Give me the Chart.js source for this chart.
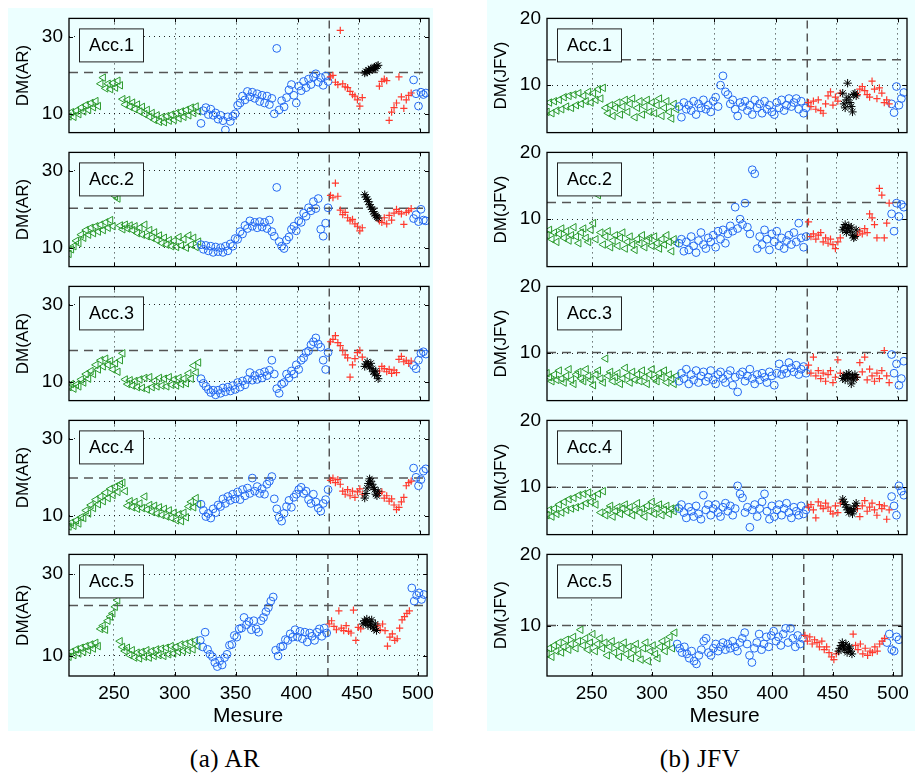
<!DOCTYPE html>
<html>
<head>
<meta charset="utf-8">
<script src="https://cdn.jsdelivr.net/npm/chart.js@4.4.0/dist/chart.umd.min.js"></script>
<style>
  body { margin: 0; width: 915px; height: 774px; overflow: hidden; position: relative; background: #fff; }
  .bg { position: absolute; background: #ecffff; }
  .panel { position: absolute; }
  .caption { position: absolute; width: 200px; text-align: center; font-family: "Liberation Serif", serif; font-size: 25px; line-height: 30px; letter-spacing: 0.5px; }
</style>
</head>
<body>
<div class="bg" style="left:8px;top:8px;width:425px;height:723px"></div>
<div class="bg" style="left:487px;top:0;width:428px;height:731px"></div>
<div class="caption" style="left:125px;top:744px">(a) AR</div>
<div class="caption" style="left:600px;top:744px">(b) JFV</div>

<script>
// x positions (Mesure) where each series starts, and sampling step
const greenStart = 213, blueStart = 321, redStart = 427, blackStart = 455, blueEndStart = 495;
const step = 2, blackStep = 1;
const splitMesure = 426;

const xTicks = [250, 300, 350, 400, 450, 500];
const yTicksAR = [10, 30];
const yTicksJFV = [10, 20];
const accLabels = ["Acc.1", "Acc.2", "Acc.3", "Acc.4", "Acc.5"];

// dashed threshold per accelerometer
const thrAR = [20.7, 20.3, 18.1, 19.8, 22.3];
const thrJFV = [13.8, 12.5, 10.1, 10.0, 10.0];

// ---- DM(AR) ----
const greenAR = [
  [9.3,10.4,9.2,10.8,9.9,11.6,10.6,12.3,11.0,12.8,11.7,13.3,12.0,17.8,19.4,16.6,17.8,16.4,18.0,16.8,18.6,17.4,13.8,12.4,13.6,11.8,12.9,11.2,12.4,10.6,11.8,9.9,11.0,9.2,10.2,8.4,9.6,7.9,9.1,7.8,9.4,8.2,9.8,8.4,10.2,8.8,10.6,9.2,11.0,9.6,11.6,10.2,11.9,10.6],
  [8.4,9.6,10.4,11.8,11.2,13.4,12.6,14.6,13.4,15.2,13.8,15.6,14.2,16.0,14.6,16.6,15.2,17.2,15.6,23.4,22.8,15.8,14.8,16.0,15.0,15.8,14.6,15.6,13.8,15.2,13.4,16.0,13.0,14.6,12.6,14.0,12.0,13.2,11.2,12.6,10.8,12.0,10.4,11.8,10.2,12.8,10.6,12.2,10.0,13.2,10.8,12.6,10.2,11.6],
  [8.6,9.4,8.2,9.2,8.8,10.6,9.8,12.0,10.8,12.8,12.0,14.4,13.2,15.6,14.0,16.0,14.4,15.4,13.2,14.8,12.6,15.6,17.4,10.6,9.4,10.4,9.0,10.2,8.6,10.6,8.4,11.0,8.0,11.2,8.6,10.2,8.8,11.0,9.0,10.8,8.8,11.2,9.2,10.6,9.0,11.0,9.4,10.8,9.6,12.2,10.8,14.2,12.4,15.0],
  [7.2,8.2,7.4,8.8,8.0,9.6,9.4,11.4,10.6,12.8,12.0,14.2,13.0,15.0,13.8,16.0,14.6,17.0,15.4,17.6,16.2,18.2,18.6,16.4,12.6,13.8,12.2,13.6,11.8,13.2,12.0,15.0,11.6,12.8,11.0,12.6,10.6,12.2,10.2,11.8,9.8,11.4,9.4,10.8,8.8,10.4,8.6,10.8,9.6,12.4,13.6,12.2,14.6,13.0],
  [9.8,11.0,10.2,11.6,10.6,12.0,11.0,12.4,11.4,12.8,11.8,13.2,12.4,16.6,17.4,16.4,18.6,19.6,20.4,22.0,23.6,13.6,12.2,11.2,12.0,10.2,11.4,9.6,10.8,9.4,11.0,9.8,11.4,9.6,11.2,10.0,11.6,10.2,11.8,10.0,12.0,10.4,12.4,10.6,12.2,11.0,12.8,11.2,13.0,11.4,13.4,11.6,13.8,12.4]
];
const blueAR = [
  [7.5,10.8,11.6,9.8,11.2,9.6,10.2,8.6,9.6,8.2,5.8,9.2,8.0,9.4,10.0,12.2,12.8,14.6,13.6,15.8,14.4,15.6,14.0,15.2,13.2,14.8,12.8,14.6,12.4,14.0,10.0,27.0,11.0,13.4,11.8,14.2,16.2,17.6,14.8,12.8,17.2,16.0,18.4,16.8,19.0,17.6,19.6,20.4,18.2,19.4,17.4,19.8,18.4],
  [10.8,9.6,10.6,9.2,10.4,8.8,10.2,9.0,10.0,8.8,10.4,9.2,11.0,10.4,12.4,12.2,14.2,13.6,15.8,15.0,17.0,15.6,16.6,15.2,16.8,15.4,16.6,15.0,17.2,14.2,13.0,25.7,11.6,10.4,9.8,12.0,12.8,14.8,15.6,14.4,17.0,16.6,19.0,18.2,20.4,19.6,22.0,20.2,22.8,14.8,13.0,16.4,20.4],
  [10.8,9.6,8.8,8.0,7.2,7.8,6.6,7.8,7.0,8.4,7.4,8.6,7.6,9.0,8.0,9.8,8.6,10.2,9.2,10.6,12.4,10.4,11.6,10.6,12.2,11.0,12.6,11.6,13.0,15.6,12.0,8.2,7.0,9.4,9.8,12.0,11.0,12.8,12.0,14.4,13.2,15.6,16.2,17.6,18.0,19.6,20.4,21.4,19.8,19.0,15.6,13.2,17.6],
  [13.0,11.4,9.8,10.6,9.4,11.8,10.8,12.8,12.4,14.4,13.2,15.0,14.0,15.6,14.4,16.2,14.2,16.8,15.2,17.2,15.8,19.8,16.4,17.6,15.8,17.0,15.6,18.2,19.0,20.2,14.4,11.8,9.6,8.6,10.6,12.4,14.0,12.2,14.8,15.6,16.8,17.4,15.8,16.4,14.2,13.2,15.6,13.6,12.0,11.2,13.2,14.2,16.8],
  [13.8,12.2,15.8,11.6,10.4,9.8,8.4,7.4,8.8,7.8,9.6,10.4,12.6,12.8,15.0,14.6,16.6,16.8,19.4,17.6,18.4,16.4,18.6,16.6,15.8,18.6,19.4,20.8,21.8,23.4,24.4,11.4,10.0,12.2,12.4,14.0,13.8,15.4,14.6,16.4,14.6,16.0,14.2,15.8,13.4,15.6,14.8,13.8,15.8,16.6,14.8,16.8,15.6]
];
const redAR = [
  [19.6,20.0,18.2,17.6,31.7,17.8,17.0,16.8,15.8,15.0,14.6,13.6,12.0,14.2,null,null,null,null,null,null,17.2,18.4,19.0,18.6,8.3,10.4,11.6,12.8,19.6,14.4,11.4,13.6,14.8,15.4],
  [23.6,23.0,26.8,23.4,19.8,18.6,19.2,17.8,17.0,17.4,16.2,15.6,14.4,15.2,null,null,null,null,null,null,17.0,16.6,17.8,16.2,18.4,17.2,19.0,20.0,19.4,18.8,16.1,19.2,19.6,20.2],
  [20.4,21.0,22.0,20.2,19.4,18.2,17.0,16.2,11.2,14.4,16.0,17.6,18.2,16.4,null,null,null,null,null,null,12.8,14.0,13.4,12.6,13.2,12.2,13.0,12.4,15.8,16.6,15.2,15.6,14.8,15.4],
  [19.2,19.8,18.6,19.4,18.2,16.4,15.6,16.8,15.2,16.4,14.8,16.2,17.0,15.6,null,null,null,null,null,null,15.8,16.2,14.6,15.2,13.8,14.4,12.8,11.6,12.2,13.6,14.8,17.8,18.6,19.0],
  [17.8,18.6,17.2,16.4,21.0,16.8,16.2,17.4,16.0,15.6,21.2,13.8,17.0,16.6,null,null,null,null,null,null,17.4,16.4,17.8,16.2,12.4,14.6,15.4,13.8,14.2,16.8,18.8,19.6,20.4,21.0]
];
const blackAR = [
  [20.6,21.0,20.8,21.4,21.2,21.7,21.5,21.9,22.1,21.8,22.4,22.6],
  [23.8,23.2,22.6,22.0,21.2,20.6,20.0,19.4,18.8,18.4,18.0,17.7],
  [14.0,14.6,15.2,14.4,13.8,14.8,13.4,12.6,12.0,12.8,11.6,10.8],
  [14.6,15.8,17.2,18.4,19.6,19.0,18.2,17.4,16.8,15.6,15.2,16.4],
  [17.8,18.6,18.2,19.0,17.4,18.4,17.6,18.8,17.0,16.6,17.8,16.2]
];
const blueEndAR = [
  [18.8,15.2,12.0,15.6,15.0,15.4],
  [17.6,18.6,16.8,20.0,17.2,17.0],
  [14.2,13.4,15.6,17.4,17.8,17.2],
  [22.4,20.0,17.8,19.4,21.6,22.2],
  [26.6,23.4,24.8,25.4,23.8,25.0]
];

// ---- DM(JFV) ----
const greenJFV = [
  [6.0,7.4,5.8,7.6,6.2,7.8,6.4,8.2,6.8,8.4,6.6,8.6,7.0,8.8,7.2,8.4,7.6,9.0,7.4,8.8,7.8,9.4,8.0,9.6,6.6,5.8,7.0,5.4,6.6,7.4,5.6,6.8,7.8,6.0,7.2,8.0,5.2,6.6,7.6,5.6,6.8,7.8,6.0,7.4,5.8,7.0,8.0,5.4,6.6,7.6,6.0,5.0,7.2,6.4],
  [7.6,8.4,7.0,8.0,6.6,7.8,8.6,7.2,8.2,6.8,7.6,8.8,7.4,6.4,8.0,8.6,7.2,6.6,8.4,9.4,7.0,13.6,8.0,6.2,7.4,8.2,5.8,6.8,7.6,6.0,7.2,8.0,5.6,6.6,7.4,6.2,5.4,7.0,6.4,7.6,5.8,6.8,7.2,6.0,7.4,6.4,5.6,7.0,6.2,7.6,6.6,5.2,7.0,6.4],
  [7.0,6.4,5.8,6.8,6.0,7.4,6.2,5.6,6.6,7.6,6.0,5.4,6.8,7.2,6.2,5.8,7.6,6.6,6.0,5.2,6.8,7.4,6.2,5.6,9.2,6.6,7.2,5.8,6.4,7.0,5.4,6.2,7.8,6.6,5.6,7.2,6.0,6.8,5.8,7.4,6.4,5.4,6.8,7.6,6.2,5.8,7.0,6.4,7.4,5.6,6.8,6.2,5.4,6.6],
  [5.8,6.6,5.6,6.8,6.0,7.4,6.2,7.8,6.6,8.2,6.8,8.4,7.0,8.8,7.2,9.0,7.6,9.2,7.8,8.6,7.4,9.0,6.2,9.4,5.8,6.6,7.2,5.6,6.4,7.0,6.0,6.8,7.4,6.2,7.0,5.8,6.6,7.6,6.2,6.8,5.6,7.2,6.4,7.8,6.0,6.8,7.4,5.8,6.6,7.2,6.0,6.8,6.4,7.0],
  [6.0,6.8,5.6,7.2,6.4,7.6,6.2,7.0,8.0,6.6,7.4,8.4,6.8,7.8,9.4,7.2,8.2,6.6,7.6,8.8,6.4,7.4,8.2,6.8,7.6,5.8,7.0,7.8,6.2,7.2,5.6,6.8,7.6,6.0,7.0,5.4,6.6,7.4,6.0,5.2,6.8,7.6,5.0,6.4,7.2,6.0,5.4,7.0,7.8,6.4,7.4,8.4,6.8,9.0]
];
const blueJFV = [
  [6.8,5.2,7.4,6.4,7.0,6.2,7.6,5.6,7.2,6.6,7.8,6.4,7.0,6.0,7.6,8.2,6.8,10.0,11.4,9.0,8.6,7.2,7.8,6.4,5.4,7.4,6.8,7.6,6.2,7.0,5.6,7.8,6.6,7.2,5.8,7.6,6.4,7.0,6.0,5.6,7.4,6.6,7.8,6.2,7.0,8.0,6.8,7.4,8.0,6.4,7.6,5.8,6.6],
  [6.4,7.0,5.2,6.6,5.4,7.4,6.0,5.0,6.8,8.0,6.2,5.6,7.2,6.6,7.6,5.8,8.2,7.0,8.4,6.4,7.8,9.0,8.2,11.8,8.6,10.0,9.2,12.4,8.8,7.8,17.4,16.8,5.6,7.4,6.2,8.4,7.0,5.4,7.8,6.6,8.2,6.0,7.2,5.6,6.8,7.6,6.2,8.0,6.6,9.4,7.2,5.8,7.4],
  [5.8,7.0,6.2,7.6,5.4,6.8,6.0,7.4,5.6,6.6,7.2,5.8,6.4,7.4,6.0,5.4,6.8,7.2,6.2,5.6,6.8,7.4,5.2,6.4,4.2,6.8,7.2,5.8,6.6,7.6,6.2,5.4,6.8,6.0,7.0,6.4,5.6,7.2,6.6,5.2,7.0,8.4,6.8,7.6,7.0,8.6,7.8,7.2,8.2,6.8,7.6,8.0,7.0],
  [6.8,7.4,6.2,5.4,7.0,6.4,5.6,7.2,6.0,5.2,8.8,6.6,7.4,5.8,6.8,7.4,6.2,5.6,7.0,7.6,6.4,7.2,5.8,6.8,10.2,9.0,8.4,6.2,7.0,4.0,6.6,7.4,5.6,6.8,7.8,9.0,6.4,5.2,7.2,5.6,6.6,7.4,5.8,6.8,7.6,6.2,5.4,7.0,6.4,5.8,7.2,6.0,6.6],
  [7.4,6.8,6.2,7.0,6.0,5.4,6.4,5.0,4.6,5.8,6.6,7.8,8.2,6.2,5.8,6.8,7.4,6.4,7.0,7.6,6.6,7.4,6.8,7.8,7.0,6.4,7.6,8.2,9.0,7.4,5.8,4.8,6.8,7.6,8.8,6.6,7.4,8.4,7.0,8.6,9.2,7.8,8.4,7.2,8.8,9.6,7.6,9.6,8.2,7.0,8.6,7.4,8.2]
];
const redJFV = [
  [7.4,6.8,7.6,6.4,7.8,6.2,5.8,7.2,8.4,9.0,7.0,8.2,7.6,8.8,null,null,null,null,null,null,8.6,9.4,9.8,9.2,8.6,8.2,10.6,9.4,8.0,9.6,8.8,7.4,7.8,7.2],
  [9.6,7.4,7.8,7.0,7.6,8.0,6.6,7.2,6.4,7.0,6.2,5.6,6.6,7.2,null,null,null,null,null,null,7.6,8.2,7.8,8.6,8.0,10.8,10.2,9.2,7.2,14.6,13.6,7.2,9.4,12.4],
  [8.2,7.0,9.4,6.6,7.4,6.2,7.0,5.8,6.8,7.4,5.6,6.4,9.0,7.0,null,null,null,null,null,null,6.4,8.6,7.2,9.4,6.0,7.6,6.6,5.8,7.0,6.2,7.4,10.4,6.6,5.6],
  [7.0,7.4,6.6,5.4,7.8,7.2,6.8,7.6,7.0,6.4,6.0,7.2,6.2,7.6,null,null,null,null,null,null,6.8,5.6,7.2,8.0,6.4,7.0,7.6,6.6,5.8,7.4,6.8,7.2,5.2,6.6],
  [8.6,7.8,8.4,7.4,8.0,7.6,7.0,7.8,6.6,7.0,6.2,5.6,5.2,6.0,null,null,null,null,null,null,8.8,7.2,6.6,7.4,6.0,6.8,5.8,6.4,6.2,7.0,6.4,7.4,7.8,8.2]
];
const blackJFV = [
  [8.8,7.2,6.6,7.8,10.3,8.2,7.4,6.8,6.0,8.6,8.8,8.4],
  [8.4,8.8,9.2,8.0,8.6,9.0,8.2,8.8,7.6,7.2,7.4,8.4],
  [6.2,6.6,6.0,6.8,6.4,7.0,6.2,5.4,6.6,6.0,6.8,6.4],
  [8.2,7.8,7.4,7.0,6.6,6.2,6.8,6.4,6.0,6.6,7.2,7.6],
  [6.4,6.8,7.2,7.6,7.0,6.6,7.4,6.2,6.8,7.0,6.4,6.0]
];
const blueEndJFV = [
  [7.2,5.9,9.8,7.0,8.0,8.9],
  [10.8,8.2,12.4,10.4,12.2,11.8],
  [9.8,7.0,8.4,5.2,6.2,8.8],
  [8.6,7.2,5.8,10.2,9.4,8.8],
  [7.6,8.8,6.6,6.4,8.4,8.0]
];

// layout
const panelTops = [15, 149, 283, 417, 551];
const plotH = 125, plotW = 360, axisW = 69, padTop = 14;
const xMin = 213, xMax = 507.6;
const cyan = "#ecffff";
const font = '"Liberation Sans", Arial, Helvetica, sans-serif';

Chart.defaults.font.family = font;
Chart.defaults.color = "#000";

function pts(start, stepX, vals) {
  const out = [];
  vals.forEach((v, i) => {
    if (v !== null) out.push({ x: start + i * stepX, y: v });
  });
  return out;
}

// frame, inward ticks and Acc.N box
const framePlugin = {
  id: "frame",
  afterDatasetsDraw(chart, args, opts) {
    const { ctx, chartArea: a, scales } = chart;
    ctx.save();
    ctx.strokeStyle = "#000";
    ctx.lineWidth = 1;
    ctx.beginPath();
    scales.x.ticks.forEach(t => {
      const px = Math.round(scales.x.getPixelForValue(t.value)) + 0.5;
      ctx.moveTo(px, a.bottom); ctx.lineTo(px, a.bottom - 4);
      ctx.moveTo(px, a.top); ctx.lineTo(px, a.top + 4);
    });
    scales.y.ticks.forEach(t => {
      const py = Math.round(scales.y.getPixelForValue(t.value)) + 0.5;
      ctx.moveTo(a.left, py); ctx.lineTo(a.left + 4, py);
      ctx.moveTo(a.right, py); ctx.lineTo(a.right - 4, py);
    });
    ctx.stroke();
    ctx.lineWidth = 1.3;
    ctx.strokeRect(a.left, a.top, a.right - a.left, a.bottom - a.top);

    const bx = a.left + 10.5, by = a.top + 10.5;
    ctx.fillStyle = cyan;
    ctx.fillRect(bx, by, 64, 33);
    ctx.strokeStyle = "#222";
    ctx.lineWidth = 1;
    ctx.strokeRect(bx, by, 64, 33);
    ctx.fillStyle = "#000";
    ctx.font = "18px " + font;
    ctx.textAlign = "center";
    ctx.textBaseline = "middle";
    ctx.fillText(opts.label, bx + 32, by + 17);
    ctx.restore();
  }
};

function makePanel(col, row) {
  const isAR = col === 0;
  const bottom = row === 4;
  const yMin = isAR ? 5.1 : 2.9;
  const yMax = isAR ? 34.8 : 20;
  const yTicks = isAR ? yTicksAR : yTicksJFV;
  const thr = isAR ? thrAR[row] : thrJFV[row];
  const green = isAR ? greenAR[row] : greenJFV[row];
  const blue = isAR ? blueAR[row] : blueJFV[row];
  const red = isAR ? redAR[row] : redJFV[row];
  const black = isAR ? blackAR[row] : blackJFV[row];
  const blueEnd = isAR ? blueEndAR[row] : blueEndJFV[row];

  const left = isAR ? 0 : 478;
  const padRight = isAR ? 11 : 8;
  const padBottom = bottom ? 0 : 10;
  const xAxisH = bottom ? 60 : 0;
  const w = axisW + plotW + padRight;
  const h = padTop + plotH + padBottom + xAxisH;

  const div = document.createElement("div");
  div.className = "panel";
  div.style.left = left + "px";
  div.style.top = (panelTops[row] - padTop) + "px";
  const canvas = document.createElement("canvas");
  canvas.width = w;
  canvas.height = h;
  canvas.style.width = w + "px";
  canvas.style.height = h + "px";
  div.appendChild(canvas);
  document.body.appendChild(div);

  const dashGrey = "#555";
  const blueColor = "#2468f2";

  new Chart(canvas, {
    type: "scatter",
    data: {
      datasets: [
        { data: pts(blackStart, blackStep, black), pointStyle: "star", pointRadius: 4.2,
          pointBorderColor: "#000", pointBackgroundColor: "#000", pointBorderWidth: 1 },
        { data: pts(redStart, step, red), pointStyle: "cross", pointRadius: 3.6,
          pointBorderColor: "#ff3a2e", pointBorderWidth: 1.2 },
        { data: pts(blueEndStart, step, blueEnd), pointStyle: "circle", pointRadius: 3.9,
          pointBorderColor: blueColor, pointBackgroundColor: "rgba(0,0,0,0)", pointBorderWidth: 1 },
        { data: pts(blueStart, step, blue), pointStyle: "circle", pointRadius: 3.9,
          pointBorderColor: blueColor, pointBackgroundColor: "rgba(0,0,0,0)", pointBorderWidth: 1 },
        { data: pts(greenStart, step, green), pointStyle: "triangle", pointRotation: -90, pointRadius: 4.3,
          pointBorderColor: "#2c9a2c", pointBackgroundColor: "rgba(0,0,0,0)", pointBorderWidth: 1 },
        { data: [{ x: xMin, y: thr }, { x: xMax, y: thr }], showLine: true, pointRadius: 0,
          borderColor: dashGrey, borderWidth: 1.5, borderDash: [9, 6] },
        { data: [{ x: splitMesure, y: yMin }, { x: splitMesure, y: yMax }], showLine: true, pointRadius: 0,
          borderColor: dashGrey, borderWidth: 1.5, borderDash: [8, 5] }
      ]
    },
    options: {
      responsive: false,
      animation: false,
      clip: 0,
      layout: { padding: { top: padTop, right: padRight, bottom: padBottom, left: 0 } },
      plugins: {
        legend: { display: false },
        tooltip: { enabled: false },
        frame: { label: accLabels[row] }
      },
      scales: {
        x: {
          type: "linear", min: xMin, max: xMax,
          afterBuildTicks: s => { s.ticks = xTicks.map(v => ({ value: v })); },
          afterFit: s => { s.height = xAxisH; },
          ticks: { display: bottom, autoSkip: false, maxRotation: 0, padding: 6, font: { size: 19 }, color: "#000" },
          grid: { color: "rgba(0,0,0,0.85)", lineWidth: 1, drawTicks: false },
          border: { display: false, dash: [1, 4] },
          title: { display: bottom, text: "Mesure", font: { size: 21 }, color: "#000", padding: { top: 0, bottom: 7 } }
        },
        y: {
          type: "linear", min: yMin, max: yMax,
          afterBuildTicks: s => { s.ticks = yTicks.map(v => ({ value: v })); },
          afterFit: s => { s.width = axisW; },
          ticks: { autoSkip: false, padding: 6, font: { size: 19 }, color: "#000" },
          grid: { color: "rgba(0,0,0,0.85)", lineWidth: 1, drawTicks: false },
          border: { display: false, dash: [1, 4] },
          title: { display: true, text: isAR ? "DM(AR)" : "DM(JFV)", font: { size: 17 }, color: "#000", padding: { top: 13.5, bottom: 0 } }
        }
      }
    },
    plugins: [framePlugin]
  });
}

for (let col = 0; col < 2; col++) {
  for (let row = 0; row < 5; row++) makePanel(col, row);
}
</script>
</body>
</html>
